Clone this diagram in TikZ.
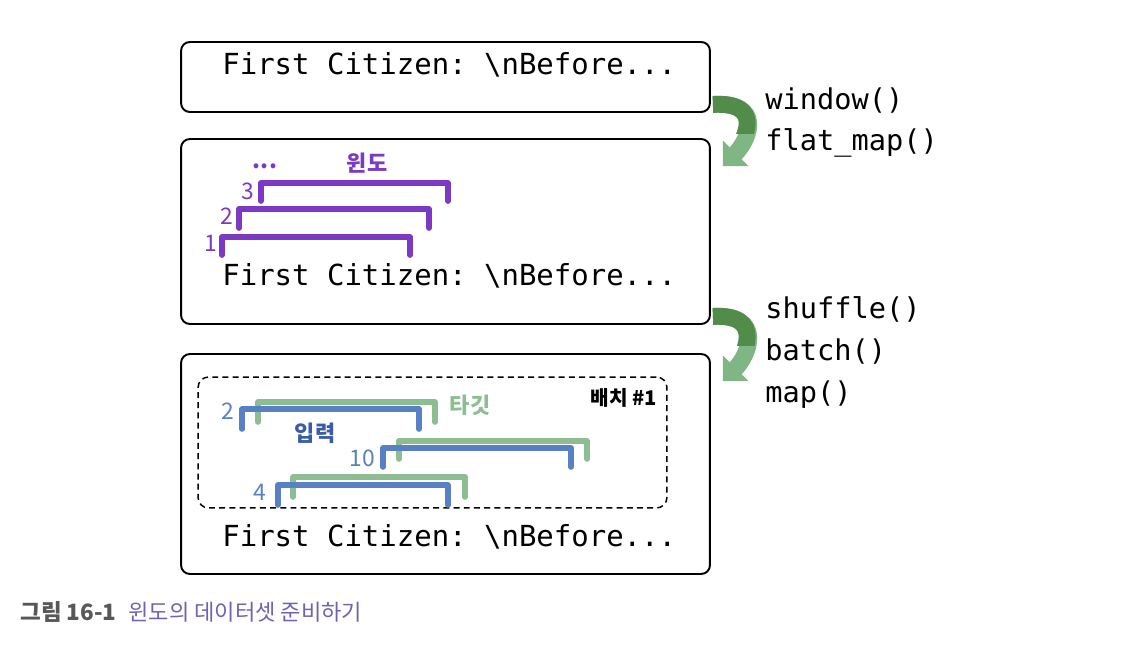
\documentclass[tikz,border=0pt]{standalone}
\usepackage{fontspec}
\setmainfont{Noto Sans CJK KR}
\setmonofont{DejaVu Sans Mono}
\usetikzlibrary{arrows.meta, calc}

\definecolor{winpurple}{RGB}{124,58,196}
\definecolor{inblue}{RGB}{88,128,196}
\definecolor{inbluedark}{RGB}{58,92,162}
\definecolor{tggreen}{RGB}{140,190,146}
\definecolor{flowdark}{RGB}{82,140,74}
\definecolor{flowlight}{RGB}{128,182,132}
\definecolor{capgray}{RGB}{88,88,88}
\definecolor{cappurple}{RGB}{112,98,176}

\begin{document}
\begin{tikzpicture}[
    x=0.02cm, y=-0.02cm,
    box/.style={draw, line width=1.1pt, rounded corners=5pt, minimum width=10.58cm, inner sep=0pt},
    batch/.style={draw, dash pattern=on 3.4pt off 2.4pt, line width=0.85pt, rounded corners=6pt,
      minimum width=9.38cm, minimum height=2.62cm, inner sep=0pt},
    code/.style={anchor=base west, inner sep=0pt, font=\fontsize{16.5}{20}\selectfont\ttfamily},
    op/.style={anchor=base west, inner sep=0pt, font=\fontsize{16.3}{19}\selectfont\ttfamily},
    win/.style={draw=winpurple, line width=3.3pt, line cap=round, line join=round},
    inp/.style={draw=inblue, line width=3.2pt, line cap=round, line join=round},
    tgt/.style={draw=tggreen, line width=3.2pt, line cap=round, line join=round},
    lbl/.style={inner sep=0pt, font=\fontsize{13}{15}\selectfont},
    tag/.style={inner sep=0pt, font=\fontsize{12.5}{14}\selectfont\bfseries},
    flow/.style={line width=9.6pt},
    head/.style={-{Triangle[length=0.36cm, width=0.7cm]}},
  ]
  \useasboundingbox (0,0) rectangle (1126,652);

  %% --- Dataset boxes ---
  \node[box, minimum height=1.4cm] (src) at (445.5,77) {};
  \node[box, minimum height=3.7cm] (winbox) at (445.5,231.5) {};
  \node[box, minimum height=4.4cm] (batchbox) at (445.5,464) {};
  \node[batch] (batch1) at (432.5,442.5) {};

  %% --- Text in the boxes ---
  \node[code] (srctxt) at (222,75) {First Citizen: \textbackslash nBefore...};
  \node[code] (wintxt) at (222,285) {First Citizen: \textbackslash nBefore...};
  \node[code] (batchtxt) at (222,546) {First Citizen: \textbackslash nBefore...};

  %% --- Operations ---
  \node[op] (opwin) at (765,110) {window()};
  \node[op] (opflat) at (765,151) {flat\_map()};
  \node[op] (opshuf) at (765,318) {shuffle()};
  \node[op] (opbatch) at (765,360) {batch()};
  \node[op] (opmap) at (765,402) {map()};

  %% --- Curved arrows between boxes ---
  \draw[flow, head, draw=flowlight] ($(src.south east)+(2,-8.5)$)
    .. controls +(50,-3) and +(28,-28) .. ($(winbox.north east)+(12,28)$);
  \begin{scope}
    \clip ($(src.south east)+(0,-30)$) rectangle ($(src.south east)+(70,21)$);
    \draw[flow, draw=flowdark] ($(src.south east)+(2,-8.5)$)
      .. controls +(50,-3) and +(28,-28) .. ($(winbox.north east)+(12,28)$);
  \end{scope}
  \draw[flow, head, draw=flowlight] ($(winbox.south east)+(2,-8.5)$)
    .. controls +(50,-3) and +(28,-28) .. ($(batchbox.north east)+(12,28)$);
  \begin{scope}
    \clip ($(winbox.south east)+(0,-30)$) rectangle ($(winbox.south east)+(70,21)$);
    \draw[flow, draw=flowdark] ($(winbox.south east)+(2,-8.5)$)
      .. controls +(50,-3) and +(28,-28) .. ($(batchbox.north east)+(12,28)$);
  \end{scope}

  %% --- Windows (purple brackets) ---
  \draw[win] (222,255) |- (410,237) -- (410,255);
  \draw[win] (239,228) |- (429,209) -- (429,228);
  \draw[win] (261,201) |- (448,183) -- (448,201);
  \node[lbl, text=winpurple] (w1) at (211,243) {1};
  \node[lbl, text=winpurple] (w2) at (227,216) {2};
  \node[lbl, text=winpurple] (w3) at (248,191) {3};
  \node[lbl, text=winpurple, anchor=base, font=\fontsize{13}{15}\selectfont\bfseries] (wdots) at (265,169) {...};
  \node[tag, text=winpurple] (wname) at (367,163) {윈도};

  %% --- Batch: targets (green) under inputs (blue) ---
  \draw[tgt] (258,422) |- (435,402) -- (435,422);
  \draw[tgt] (399,459) |- (587,441) -- (587,459);
  \draw[tgt] (293,497) |- (465,477) -- (465,497);
  \draw[inp] (242,429) |- (419,409) -- (419,429);
  \draw[inp] (383,467) |- (571,448) -- (571,467);
  \draw[inp] (278,505) |- (448,485) -- (448,505);
  \node[lbl, text=inblue] (b1) at (228,411) {2};
  \node[lbl, text=inblue] (b2) at (362,458) {10};
  \node[lbl, text=inblue] (b3) at (260,492) {4};
  \node[tag, text=tggreen] (tname) at (470,405) {타깃};
  \node[tag, text=inbluedark] (iname) at (315,433) {입력};
  \node[tag, font=\fontsize{11.5}{13}\selectfont\bfseries] (bname) at (624,398) {배치 \#1};

  %% --- Caption ---
  \node[anchor=west, inner sep=0pt, text=capgray, font=\fontsize{12.8}{15}\selectfont\bfseries]
    (capnum) at (20,612) {그림 16-1};
  \node[anchor=west, inner sep=0pt, text=cappurple, font=\fontsize{12.6}{15}\selectfont]
    (captxt) at (128,612) {윈도의 데이터셋 준비하기};
\end{tikzpicture}
\end{document}
